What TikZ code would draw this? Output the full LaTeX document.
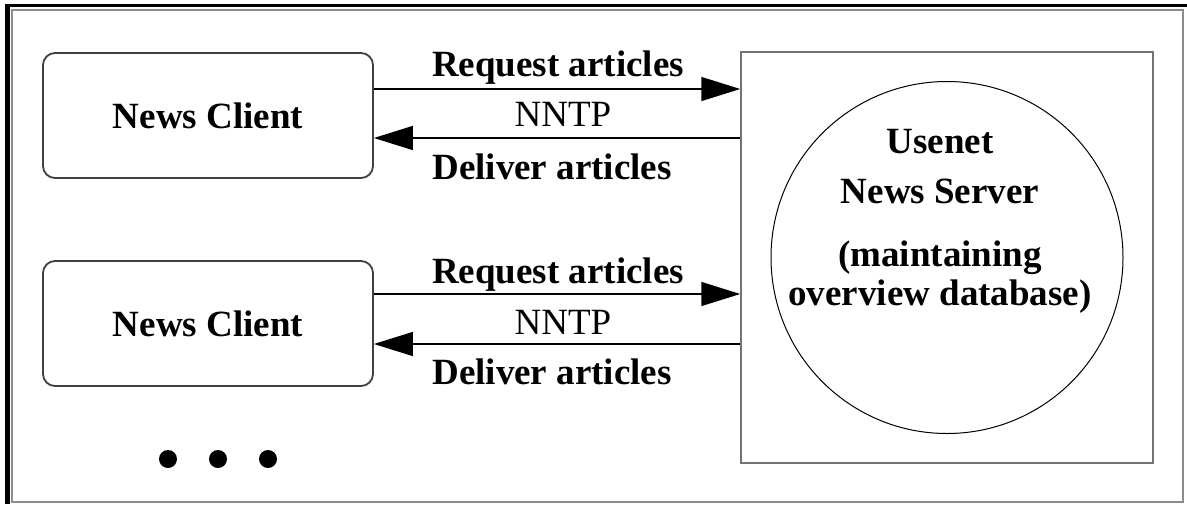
\documentclass[tikz,border=0pt]{standalone}
\usepackage{fontspec}
\setmainfont{Liberation Serif}
\usetikzlibrary{arrows.meta}
\begin{document}
\begin{tikzpicture}[x=1pt,y=-1pt,
  client/.style={draw=black!75,line width=1.8pt,rounded corners=12pt,minimum width=330pt,minimum height=125pt,inner sep=0pt,
    font=\fontsize{37}{40}\selectfont\bfseries},
  lbl/.style={inner sep=0pt,font=\fontsize{37}{40}\selectfont\bfseries},
  proto/.style={inner sep=0pt,font=\fontsize{37}{40}\selectfont},
  arr/.style={line width=1.5pt,-{Triangle[length=39pt,width=24pt]}},
  dot/.style={circle,fill=black,minimum size=18pt,inner sep=0pt}]
\useasboundingbox (0,0) rectangle (1187,504);
% frame
\draw[black!45,line width=1.5pt] (12,10) rectangle (1183,502);
\draw[black,line width=3pt] (5,5.5) -- (1187,5.5);
\draw[black,line width=5pt] (7.5,4) -- (7.5,504);
% server
\node[draw=black!55,line width=1.5pt,minimum width=412pt,minimum height=411pt,inner sep=0pt] (srv) at (947,257.5) {};
\node[draw=black,line width=1pt,circle,minimum size=352pt,inner sep=0pt] (srvc) at (947,257.5) {};
\node[align=center,inner sep=0pt,font=\fontsize{37}{39}\selectfont\bfseries] (srvt) at (940,221)
  {Usenet\\[11pt]News Server\\[24pt](maintaining\\overview database)};
% clients
\node[client] (c1) at (208,115.5) {News Client};
\node[client] (c2) at (208,323.5) {News Client};
% arrows
\draw[arr] (c1.east |- 0,89) -- (srv.west |- 0,89);
\draw[arr] (srv.west |- 0,138) -- (c1.east |- 0,138);
\draw[arr] (c2.east |- 0,294) -- (srv.west |- 0,294);
\draw[arr] (srv.west |- 0,344) -- (c2.east |- 0,344);
% labels
\node[lbl] (r1) at (558,68) {Request articles};
\node[proto] (p1) at (563,114) {NNTP};
\node[lbl] (d1) at (552,167) {Deliver articles};
\node[lbl] (r2) at (558,275) {Request articles};
\node[proto] (p2) at (563,322) {NNTP};
\node[lbl] (d2) at (552,372) {Deliver articles};
% dots
\node[dot] (e1) at (168,459) {};
\node[dot] (e2) at (218,459) {};
\node[dot] (e3) at (268,459) {};
\end{tikzpicture}
\end{document}
